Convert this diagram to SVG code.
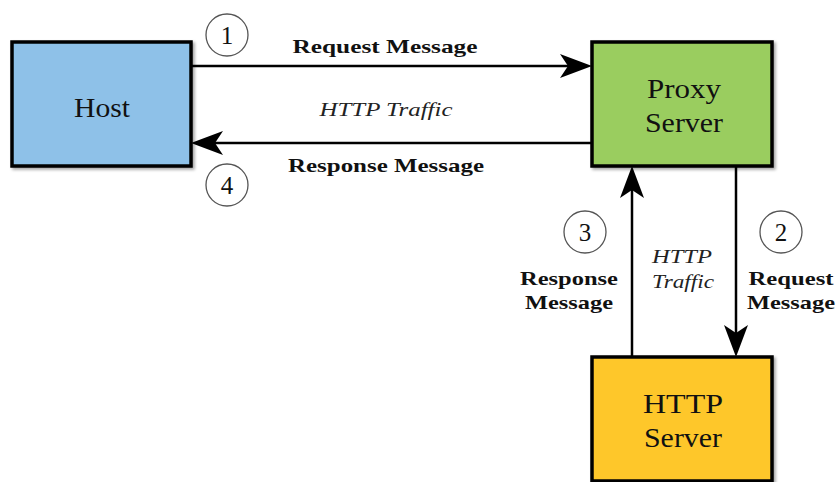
<svg xmlns="http://www.w3.org/2000/svg" width="838" height="482" viewBox="0 0 838 482">
  <defs>
    <filter id="shadow" x="-10%" y="-10%" width="125%" height="125%">
      <feDropShadow dx="2" dy="2" stdDeviation="1.5" flood-color="#000" flood-opacity="0.35"/>
    </filter>
    <style>
      .box { stroke: #000; stroke-width: 3.5; filter: url(#shadow); }
      .name { font-family: "Liberation Serif", "DejaVu Serif", serif; font-size: 27px; text-anchor: middle; fill: #111; }
      .lbl { font-family: "Liberation Serif", "DejaVu Serif", serif; font-size: 19px; font-weight: bold; text-anchor: middle; fill: #111; }
      .it { font-family: "Liberation Serif", "DejaVu Serif", serif; font-size: 19px; font-style: italic; text-anchor: middle; fill: #222; }
      .step circle { fill: #fff; stroke: #555; stroke-width: 1.3; }
      .step text { font-family: "Liberation Serif", "DejaVu Serif", serif; font-size: 25px; text-anchor: middle; fill: #111; }
      .wire { stroke: #000; stroke-width: 2.5; fill: none; }
      .head { fill: #000; }
    </style>
  </defs>
  <rect width="838" height="482" fill="#fff"/>

  <g id="connectors">
    <!-- 1: host to proxy -->
    <line class="wire" x1="191" y1="66" x2="584" y2="66"/>
    <path class="head" d="M560,54 L592,66 L560,78 L568,66 Z"/>
    <!-- 4: proxy back to host -->
    <line class="wire" x1="592" y1="143" x2="200" y2="143"/>
    <path class="head" d="M191,143 L223,131 L215,143 L223,155 Z"/>
    <!-- 3: http server back to proxy -->
    <line class="wire" x1="632" y1="357" x2="632" y2="175"/>
    <path class="head" d="M632,166 L644,198 L632,190 L620,198 Z"/>
    <!-- 2: proxy to http server -->
    <line class="wire" x1="736" y1="166" x2="736" y2="348"/>
    <path class="head" d="M736,357 L724,325 L736,333 L748,325 Z"/>
  </g>

  <g id="host">
    <rect class="box" x="12" y="42" width="179" height="124" fill="#8EC1E8"/>
    <text class="name" x="102" y="117" textLength="56" lengthAdjust="spacingAndGlyphs">Host</text>
  </g>

  <g id="proxy-server">
    <rect class="box" x="592" y="42" width="180" height="124" fill="#9ACD5F"/>
    <text class="name" x="684" y="98" textLength="74" lengthAdjust="spacingAndGlyphs">Proxy</text>
    <text class="name" x="684" y="132" textLength="78" lengthAdjust="spacingAndGlyphs">Server</text>
  </g>

  <g id="http-server">
    <rect class="box" x="592" y="357" width="180" height="124" fill="#FEC72B"/>
    <text class="name" x="683" y="413" textLength="80" lengthAdjust="spacingAndGlyphs">HTTP</text>
    <text class="name" x="683" y="447" textLength="78" lengthAdjust="spacingAndGlyphs">Server</text>
  </g>

  <g id="labels">
    <text class="lbl" x="385" y="53" textLength="185" lengthAdjust="spacingAndGlyphs">Request Message</text>
    <text class="it" x="386" y="116" textLength="133" lengthAdjust="spacingAndGlyphs">HTTP Traffic</text>
    <text class="lbl" x="386" y="172" textLength="196" lengthAdjust="spacingAndGlyphs">Response Message</text>
    <text class="lbl" x="569" y="285" textLength="98" lengthAdjust="spacingAndGlyphs">Response</text>
    <text class="lbl" x="569" y="309" textLength="88" lengthAdjust="spacingAndGlyphs">Message</text>
    <text class="it" x="682" y="263" textLength="60" lengthAdjust="spacingAndGlyphs">HTTP</text>
    <text class="it" x="683" y="288" textLength="62" lengthAdjust="spacingAndGlyphs">Traffic</text>
    <text class="lbl" x="791" y="285" textLength="85" lengthAdjust="spacingAndGlyphs">Request</text>
    <text class="lbl" x="791" y="309" textLength="88" lengthAdjust="spacingAndGlyphs">Message</text>
  </g>

  <g id="steps" class="step">
    <g id="step-1"><circle cx="227" cy="35" r="21"/><text x="227" y="44">1</text></g>
    <g id="step-2"><circle cx="781" cy="232" r="21"/><text x="781" y="241">2</text></g>
    <g id="step-3"><circle cx="585" cy="232" r="21"/><text x="585" y="241">3</text></g>
    <g id="step-4"><circle cx="227" cy="185" r="21"/><text x="227" y="194">4</text></g>
  </g>
</svg>
